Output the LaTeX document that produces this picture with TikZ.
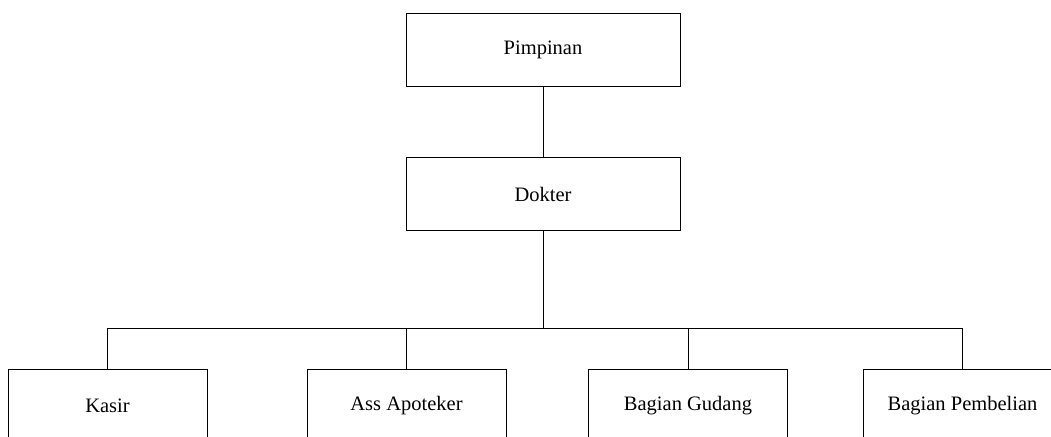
\documentclass[tikz,border=0pt]{standalone}
\usepackage{fontspec}
\setmainfont{Liberation Serif}
\begin{document}
\begin{tikzpicture}[x=1pt,y=-1pt,
  unit/.style={draw=black,line width=0.9pt,fill=white,minimum width=274pt,minimum height=73pt,inner sep=0pt,font=\fontsize{20.5}{24}\selectfont},
  staff/.style={unit,minimum width=199pt},
  link/.style={draw=black,line width=0.9pt}]
  \useasboundingbox (0,0) rectangle (1051,436);
  \clip (0,0) rectangle (1051,436);
  % top of the chart
  \node[unit] (pim) at (543,49.5) {Pimpinan};
  \node[unit] (dok) at (543,194) {Dokter};
  % staff row
  \node[staff] (kasir) at (107.5,405.5) {Kasir};
  \node[staff] (ass) at (406.5,405.5) {Ass Apoteker};
  \node[staff] (gudang) at (688,405.5) {Bagian Gudang};
  \node[staff] (beli) at (962.5,405.5) {Bagian Pembelian};
  % connectors
  \coordinate (bus) at (543,328);
  \draw[link] (pim) -- (dok);
  \draw[link] (dok.south) -- (bus);
  \draw[link] (kasir.north |- bus) -- (beli.north |- bus);
  \foreach \n in {kasir,ass,gudang,beli}
    \draw[link] (\n.north |- bus) -- (\n.north);
\end{tikzpicture}
\end{document}
